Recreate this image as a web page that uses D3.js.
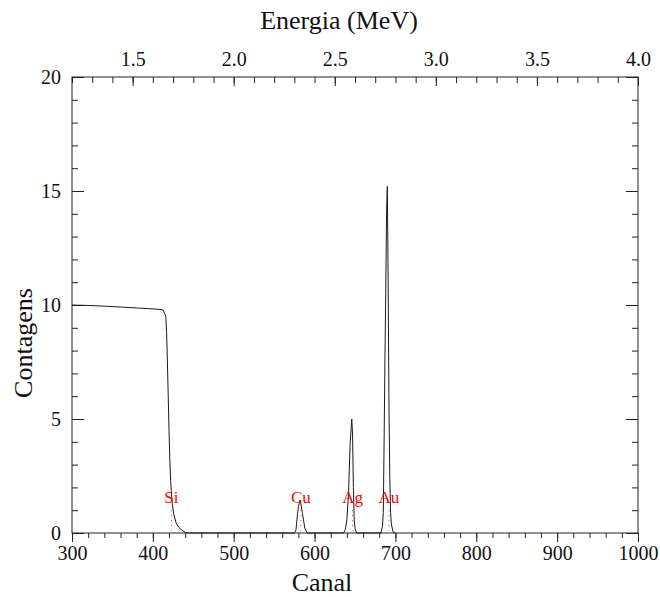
<!DOCTYPE html>
<html>
<head>
<meta charset="utf-8">
<script src="https://cdn.jsdelivr.net/npm/d3@7/dist/d3.min.js"></script>
<style>
  body { margin: 0; background: #fff; }
</style>
</head>
<body>
<div id="chart"></div>
<script>
// spectrum (canal -> contagens)
const canal = [300, 320, 340, 360, 380, 400, 410, 413, 416, 417, 418, 419, 420, 421, 422, 423, 424, 426, 429, 432, 436, 440, 443,
  575, 577, 579, 580, 582, 583, 585, 588, 591,
  636, 638, 640, 642, 644, 646, 647, 648, 649, 650, 652,
  682, 684, 685, 686, 687, 688, 689, 690, 691, 692, 693, 694, 695, 697, 700]
const contagens = [10.0, 9.98, 9.95, 9.91, 9.87, 9.83, 9.8, 9.77, 9.5, 8.8, 7.5, 6.0, 4.5, 3.2, 2.3, 1.7, 1.3, 0.8, 0.42, 0.25, 0.12, 0.03, 0,
  0, 0.13, 0.86, 1.15, 1.45, 1.3, 0.86, 0.2, 0,
  0, 0.15, 0.6, 1.75, 3.95, 5.0, 4.3, 2.0, 0.6, 0.2, 0,
  0, 0.3, 0.9, 4.0, 7.5, 10.5, 14.0, 15.2, 11.0, 5.7, 2.5, 0.9, 0.4, 0.05, 0]

// element markers
const elementos = ['Si', 'Cu', 'Ag', 'Au']
const elementoCanal = [423, 583, 647, 692]
const rotuloAltura = 1.3

// ticks
const canalTicks = [300, 400, 500, 600, 700, 800, 900, 1000]
const energiaTicks = [1.5, 2.0, 2.5, 3.0, 3.5, 4.0]
const contagensTicks = [0, 5, 10, 15, 20]

const W = 660, H = 597
const mLeft = 72, mRight = 638, mTop = 77, mBottom = 533
const FONT = "'Liberation Serif', 'Times New Roman'"

const svg = d3.select('#chart').append('svg').attr('width', W).attr('height', H)

const x = d3.scaleLinear().domain([300, 1000]).range([mLeft, mRight])
const e = d3.scaleLinear().domain([1.2, 4.0]).range([mLeft, mRight])
const y = d3.scaleLinear().domain([0, 20]).range([mBottom, mTop])

const minorCanal = d3.range(300, 1001, 20)
const minorEnergia = d3.range(12, 41).map(d => d / 10)
const minorY = d3.range(0, 21)

function styleAxis(g, fontSize) {
  g.select('.domain').remove()
  g.selectAll('line').attr('stroke', '#222')
  g.selectAll('text').attr('font-size', fontSize).attr('fill', '#111')
}

// bottom (ticks outward)
svg.append('g').attr('transform', `translate(0,${mBottom})`)
  .call(d3.axisBottom(x).tickValues(minorCanal).tickSize(5).tickFormat(''))
  .call(g => styleAxis(g, 0))
svg.append('g').attr('transform', `translate(0,${mBottom})`)
  .call(d3.axisBottom(x).tickValues(canalTicks).tickSize(9).tickPadding(4).tickFormat(d3.format('d')))
  .call(g => styleAxis(g, 20))

// top (ticks inward)
svg.append('g').attr('transform', `translate(0,${mTop})`)
  .call(d3.axisTop(e).tickValues(minorEnergia).tickSize(-6).tickFormat(''))
  .call(g => styleAxis(g, 0))
svg.append('g').attr('transform', `translate(0,${mTop})`)
  .call(d3.axisTop(e).tickValues(energiaTicks).tickSize(-9).tickPadding(11).tickFormat(d3.format('.1f')))
  .call(g => styleAxis(g, 20))

// left (ticks inward)
svg.append('g').attr('transform', `translate(${mLeft},0)`)
  .call(d3.axisLeft(y).tickValues(minorY).tickSize(-6).tickFormat(''))
  .call(g => styleAxis(g, 0))
svg.append('g').attr('transform', `translate(${mLeft},0)`)
  .call(d3.axisLeft(y).tickValues(contagensTicks).tickSize(-12).tickPadding(11).tickFormat(d3.format('d')))
  .call(g => styleAxis(g, 20))

// right (ticks inward, no labels)
svg.append('g').attr('transform', `translate(${mRight},0)`)
  .call(d3.axisRight(y).tickValues(minorY).tickSize(-6).tickFormat(''))
  .call(g => styleAxis(g, 0))
svg.append('g').attr('transform', `translate(${mRight},0)`)
  .call(d3.axisRight(y).tickValues(contagensTicks).tickSize(-12).tickFormat(''))
  .call(g => styleAxis(g, 0))

// frame
svg.append('rect')
  .attr('x', mLeft).attr('y', mTop)
  .attr('width', mRight - mLeft).attr('height', mBottom - mTop)
  .attr('fill', 'none').attr('stroke', '#222').attr('stroke-width', 1)

// spectrum
const pontos = canal.map((c, i) => [c, contagens[i]])
svg.append('path')
  .datum(pontos)
  .attr('fill', 'none')
  .attr('stroke', '#1a1a1a')
  .attr('stroke-width', 1)
  .attr('d', d3.line().x(d => x(d[0])).y(d => y(d[1])))

// element markers
elementos.forEach((el, i) => {
  const cx = x(elementoCanal[i])
  svg.append('line')
    .attr('x1', cx).attr('x2', cx)
    .attr('y1', y(1.0)).attr('y2', y(0.1))
    .attr('stroke', '#ff2020').attr('stroke-width', 1)
    .attr('stroke-dasharray', '1,4')
  svg.append('text')
    .attr('x', cx).attr('y', y(rotuloAltura))
    .attr('text-anchor', 'middle')
    .attr('font-size', 17)
    .attr('fill', '#ff0000')
    .text(el)
})

// axis titles
svg.append('text')
  .attr('x', 339).attr('y', 29)
  .attr('text-anchor', 'middle').attr('font-size', 26).attr('fill', '#111')
  .text('Energia (MeV)')
svg.append('text')
  .attr('x', 322).attr('y', 591)
  .attr('text-anchor', 'middle').attr('font-size', 26).attr('fill', '#111')
  .text('Canal')
svg.append('text')
  .attr('transform', `translate(32,343) rotate(-90)`)
  .attr('text-anchor', 'middle').attr('font-size', 26).attr('fill', '#111')
  .text('Contagens')

svg.selectAll('text').style('font-family', FONT)
</script>
</body>
</html>
